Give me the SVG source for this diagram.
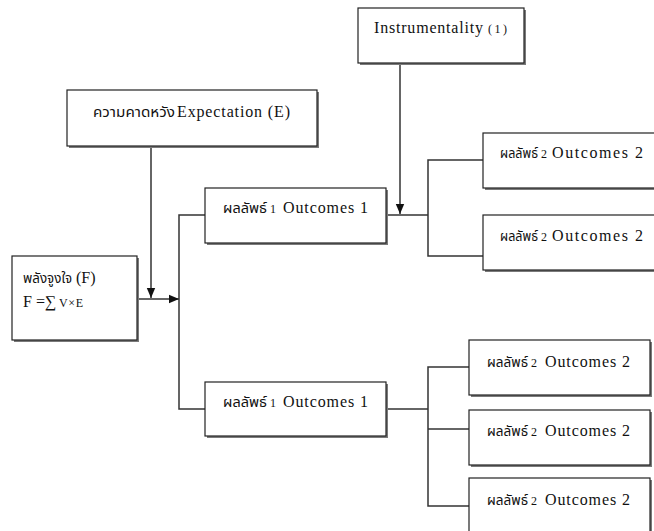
<svg xmlns="http://www.w3.org/2000/svg" width="654" height="531" viewBox="0 0 654 531">
<style>
.sh{fill:#7a7a7a}
.bx{fill:#fff;stroke:#222;stroke-width:1.2}
.ln{fill:none;stroke:#333;stroke-width:1.5}
.t{font-family:"Liberation Serif","Noto Serif Thai","Noto Sans Thai",serif;font-size:16px;fill:#111}
.th{font-family:"Noto Sans Thai","Noto Serif Thai","Liberation Serif",sans-serif;font-size:14px;fill:#111}
.s{font-family:"Liberation Serif",serif;font-size:12px;fill:#111}
</style>
<defs>
<marker id="arr" markerUnits="userSpaceOnUse" markerWidth="10" markerHeight="10" viewBox="0 0 10 10" refX="10" refY="5" orient="auto">
<path d="M0,0.8 L10,5 L0,9.2 Z" fill="#111"/>
</marker>
</defs>
<rect width="654" height="531" fill="#fff"/>
<g id="connectors">
<path class="ln" d="M137,299 H179" marker-end="url(#arr)"/>
<path class="ln" d="M151,146 V298" marker-end="url(#arr)"/>
<path class="ln" d="M205,215 H179 V409 H205"/>
<path class="ln" d="M386,215 H428"/>
<path class="ln" d="M400,63 V214" marker-end="url(#arr)"/>
<path class="ln" d="M483,160 H428 V256 H483"/>
<path class="ln" d="M386,409 H428"/>
<path class="ln" d="M469,367 H428 V506 H469"/>
<path class="ln" d="M428,429 H469"/>
</g>
<g id="force">
<rect class="sh" x="14" y="258" width="125" height="84"/>
<rect class="bx" x="12" y="256" width="125" height="84"/>
<text class="th" x="23" y="283" textLength="49" lengthAdjust="spacingAndGlyphs">พลังจูงใจ</text>
<text class="t" x="76" y="283">(F)</text>
<text class="t" x="23" y="307">F =∑</text>
<text class="s" x="59" y="307" font-size="10" textLength="24" lengthAdjust="spacing">V×E</text>
</g>
<g id="expectation">
<rect class="sh" x="69" y="92" width="250" height="56"/>
<rect class="bx" x="67" y="90" width="250" height="56"/>
<text class="th" x="93" y="117" textLength="82" lengthAdjust="spacingAndGlyphs">ความคาดหวัง</text>
<text class="t" x="177" y="117" textLength="113" lengthAdjust="spacing">Expectation (E)</text>
</g>
<g id="instrumentality">
<rect class="sh" x="360" y="10" width="166" height="55"/>
<rect class="bx" x="358" y="8" width="166" height="55"/>
<text class="t" x="374" y="33" textLength="109" lengthAdjust="spacing">Instrumentality</text>
<text class="s" x="488" y="33" textLength="19" lengthAdjust="spacing">(1)</text>
</g>
<g id="outcome1a">
<rect class="sh" x="207" y="190" width="181" height="55"/>
<rect class="bx" x="205" y="188" width="181" height="55"/>
<text class="th" x="223" y="213" textLength="44" lengthAdjust="spacingAndGlyphs">ผลลัพธ์</text>
<text class="s" x="270" y="213">1</text>
<text class="t" x="283" y="213" textLength="85" lengthAdjust="spacing">Outcomes 1</text>
</g>
<g id="outcome1b">
<rect class="sh" x="207" y="384" width="181" height="54"/>
<rect class="bx" x="205" y="382" width="181" height="54"/>
<text class="th" x="223" y="407" textLength="44" lengthAdjust="spacingAndGlyphs">ผลลัพธ์</text>
<text class="s" x="270" y="407">1</text>
<text class="t" x="283" y="407" textLength="85" lengthAdjust="spacing">Outcomes 1</text>
</g>
<g id="outcome2a">
<rect class="sh" x="485" y="135" width="180" height="55"/>
<rect class="bx" x="483" y="133" width="180" height="55"/>
<text class="th" x="500" y="158" textLength="38" lengthAdjust="spacingAndGlyphs">ผลลัพธ์</text>
<text class="s" x="541" y="158">2</text>
<text class="t" x="552" y="158" textLength="91" lengthAdjust="spacing">Outcomes 2</text>
</g>
<g id="outcome2b">
<rect class="sh" x="485" y="217" width="180" height="55"/>
<rect class="bx" x="483" y="215" width="180" height="55"/>
<text class="th" x="500" y="241" textLength="38" lengthAdjust="spacingAndGlyphs">ผลลัพธ์</text>
<text class="s" x="541" y="241">2</text>
<text class="t" x="552" y="241" textLength="91" lengthAdjust="spacing">Outcomes 2</text>
</g>
<g id="outcome2c">
<rect class="sh" x="471" y="342" width="181" height="55"/>
<rect class="bx" x="469" y="340" width="181" height="55"/>
<text class="th" x="487" y="367" textLength="41" lengthAdjust="spacingAndGlyphs">ผลลัพธ์</text>
<text class="s" x="531" y="367">2</text>
<text class="t" x="545" y="367" textLength="85" lengthAdjust="spacing">Outcomes 2</text>
</g>
<g id="outcome2d">
<rect class="sh" x="471" y="412" width="181" height="55"/>
<rect class="bx" x="469" y="410" width="181" height="55"/>
<text class="th" x="487" y="436" textLength="41" lengthAdjust="spacingAndGlyphs">ผลลัพธ์</text>
<text class="s" x="531" y="436">2</text>
<text class="t" x="545" y="436" textLength="85" lengthAdjust="spacing">Outcomes 2</text>
</g>
<g id="outcome2e">
<rect class="sh" x="471" y="480" width="181" height="60"/>
<rect class="bx" x="469" y="478" width="181" height="60"/>
<text class="th" x="487" y="505" textLength="41" lengthAdjust="spacingAndGlyphs">ผลลัพธ์</text>
<text class="s" x="531" y="505">2</text>
<text class="t" x="545" y="505" textLength="85" lengthAdjust="spacing">Outcomes 2</text>
</g>
</svg>
